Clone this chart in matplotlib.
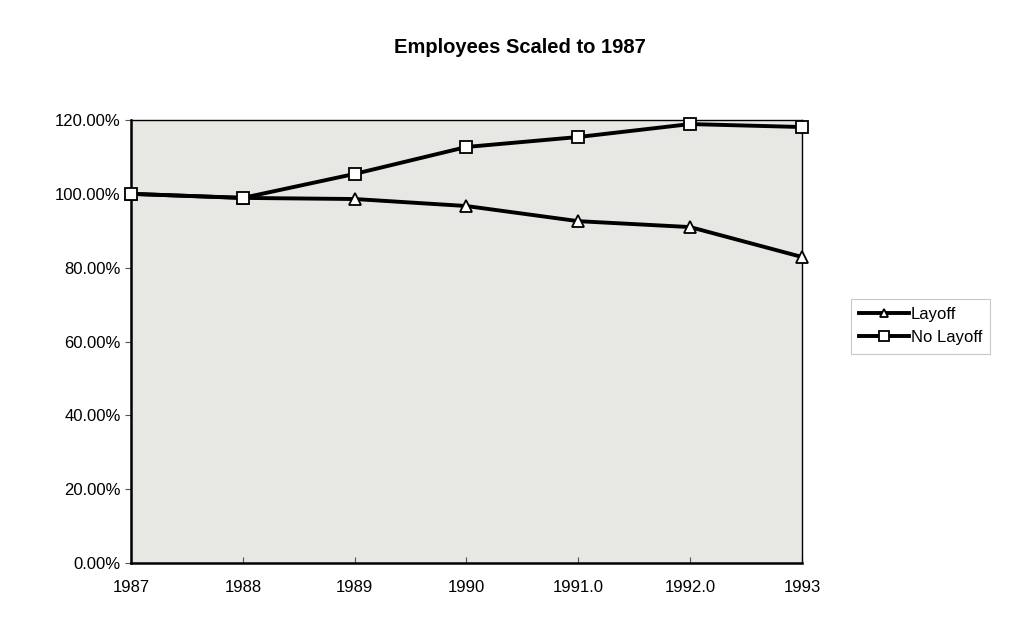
import matplotlib.pyplot as plt
from matplotlib.ticker import FuncFormatter

years = [1987, 1988, 1989, 1990, 1991, 1992, 1993]
year_labels = ["1987", "1988", "1989", "1990", "1991.0", "1992.0", "1993"]
layoff = [100.0, 98.9, 98.6, 96.7, 92.6, 91.0, 82.9]
no_layoff = [100.0, 98.9, 105.4, 112.7, 115.4, 118.9, 118.1]

plt.rcParams['font.family'] = ['Liberation Sans', 'DejaVu Sans']

fig = plt.figure(figsize=(10.1, 6.3), dpi=100)
ax = fig.add_axes([0.1297, 0.1063, 0.6643, 0.7032])
ax.set_facecolor('#e7e7e4')

ax.plot(years, layoff, color='black', lw=2.8, marker='^', ms=8,
        mfc='white', mec='black', mew=1.3, label='Layoff', zorder=3,
        clip_on=False)
ax.plot(years, no_layoff, color='black', lw=2.8, marker='s', ms=9,
        mfc='white', mec='black', mew=1.3, label='No Layoff', zorder=3,
        clip_on=False)

ax.set_xlim(1987, 1993)
ax.set_ylim(0, 120)
ax.set_xticks(years)
ax.set_xticklabels(year_labels)
ax.set_yticks(range(0, 121, 20))
ax.yaxis.set_major_formatter(FuncFormatter(lambda v, p: f"{v:.2f}%"))
ax.tick_params(axis='both', labelsize=12, length=4, color='#555555')
ax.tick_params(axis='x', direction='in', pad=12)

for side in ['left', 'bottom']:
    ax.spines[side].set_linewidth(1.8)
for side in ['top', 'right']:
    ax.spines[side].set_linewidth(1.0)

fig.text(0.5149, 0.924, 'Employees Scaled to 1987', ha='center', va='center',
         fontsize=14.5, fontweight='bold')

leg = ax.legend(loc='center left', bbox_to_anchor=(1.06, 0.535), fontsize=12,
                frameon=True, fancybox=False, edgecolor='#bbbbbb',
                handlelength=3.0, handletextpad=0.1, borderpad=0.5,
                labelspacing=0.5, markerscale=0.75)
leg.get_frame().set_linewidth(0.8)

fig.savefig('out.png', dpi=100, facecolor='white')
